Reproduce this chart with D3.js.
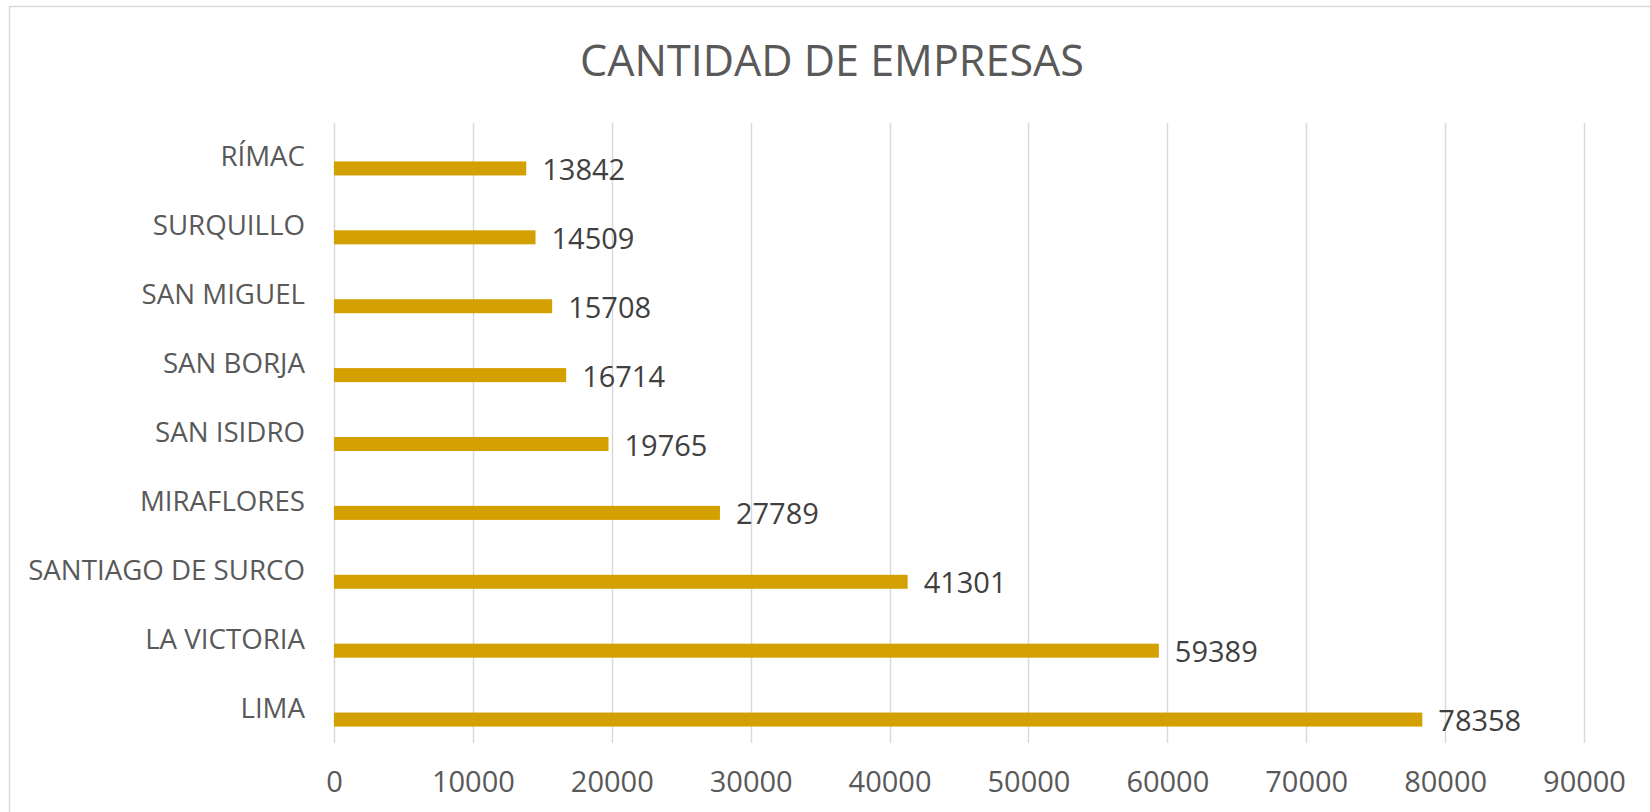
<!DOCTYPE html>
<html><head><meta charset="utf-8">
<script src="https://cdn.jsdelivr.net/npm/d3@7"></script>
<style>html,body{margin:0;padding:0;background:#fff;}svg{display:block;}</style>
</head><body>
<svg id="c" width="1650" height="812"></svg>
<script>
const categories = ["RÍMAC","SURQUILLO","SAN MIGUEL","SAN BORJA","SAN ISIDRO","MIRAFLORES","SANTIAGO DE SURCO","LA VICTORIA","LIMA"];
const values = [13842,14509,15708,16714,19765,27789,41301,59389,78358];
const tickValues = [0,10000,20000,30000,40000,50000,60000,70000,80000,90000];
const title = "CANTIDAD DE EMPRESAS";

const svg = d3.select("#c");
const font = "'Open Sans', 'Noto Sans', sans-serif";

svg.append("rect").attr("x",9.5).attr("y",6.5).attr("width",1700).attr("height",900)
  .attr("fill","#fff").attr("stroke","#d9d9d9").attr("stroke-width",1.5);

const x = d3.scaleLinear().domain([0,90000]).range([334,1584]);
const y = d3.scaleBand().domain(categories).range([123,743]);

// gridlines
svg.append("g").selectAll("line").data(tickValues).join("line")
  .attr("x1",d=>Math.round(x(d))+0.5).attr("x2",d=>Math.round(x(d))+0.5)
  .attr("y1",123).attr("y2",743)
  .attr("stroke","#d9d9d9").attr("stroke-width",1.5);

// x axis tick labels via d3 axis
const ax = svg.append("g").attr("transform","translate(0,743)")
  .call(d3.axisBottom(x).tickValues(tickValues).tickFormat(d3.format("d")).tickSize(0).tickPadding(0));
ax.select(".domain").remove();
ax.selectAll("text").attr("font-family",font).attr("font-size",29).attr("fill","#595959")
  .attr("dy",null).attr("y",49);

const barH = 14, off = 11;
const cy = d => y(d) + y.bandwidth()/2 + off;

svg.append("g").selectAll("rect").data(categories).join("rect")
  .attr("x",x(0)).attr("y",d=>cy(d)-barH/2)
  .attr("width",(d,i)=>x(values[i])-x(0)).attr("height",barH)
  .attr("fill","#d4a000");

svg.append("g").selectAll("text").data(categories).join("text")
  .attr("x",(d,i)=>x(values[i])+16).attr("y",d=>cy(d)+11.5)
  .attr("font-family",font).attr("font-size",29).attr("fill","#404040")
  .text((d,i)=>values[i]);

// category labels
const cl = svg.append("g").selectAll("text").data(categories).join("text")
  .attr("x",305).attr("y",d=>cy(d)-2).attr("text-anchor","end")
  .attr("font-family",font).attr("font-size",30).attr("fill","#595959")
  .text(d=>d);
let maxW = 0; cl.each(function(){maxW=Math.max(maxW,this.getComputedTextLength());});
cl.attr("font-size",30*277/maxW);

const t = svg.append("text").attr("x",832).attr("y",76).attr("text-anchor","middle")
  .attr("font-family",font).attr("font-weight",400).attr("font-size",50).attr("fill","#595959").text(title);
const tw = t.node().getComputedTextLength();
t.attr("font-size",50*504/tw);
</script>
</body></html>
